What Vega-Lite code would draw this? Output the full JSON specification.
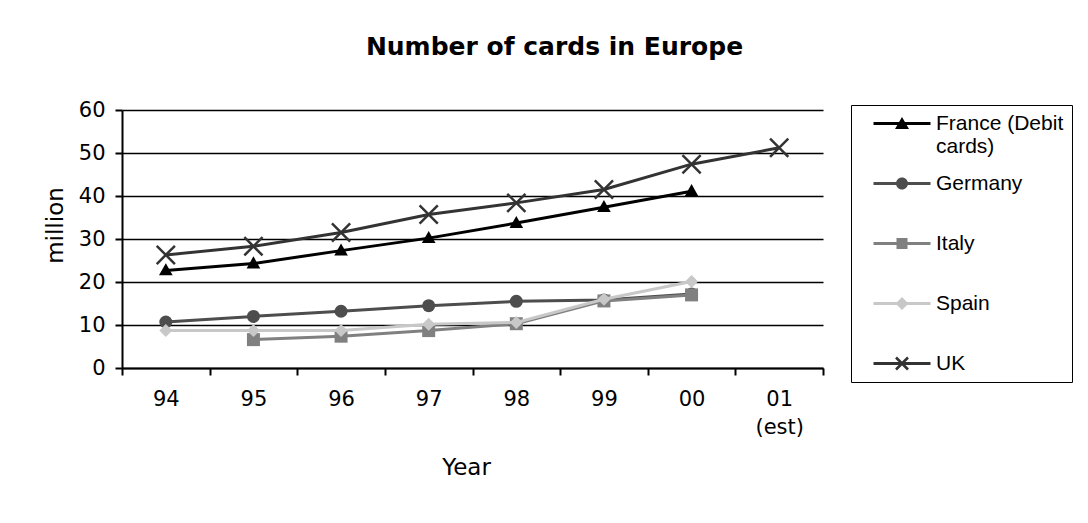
{
  "$schema": "https://vega.github.io/schema/vega-lite/v6.json",
  "width": 701,
  "height": 258,
  "autosize": {"type": "none"},
  "padding": {"left": 122, "top": 110, "right": 265, "bottom": 155},
  "background": "white",
  "title": {
    "text": "Number of cards in Europe",
    "font": "DejaVu Sans",
    "fontSize": 25,
    "fontWeight": "bold",
    "color": "black",
    "anchor": "middle",
    "baseline": "alphabetic",
    "offset": 19,
    "dx": 82
  },
  "data": {
    "values": [
      {"year": "94", "country": "France (Debit cards)", "value": 22.7},
      {"year": "95", "country": "France (Debit cards)", "value": 24.3},
      {"year": "96", "country": "France (Debit cards)", "value": 27.3},
      {"year": "97", "country": "France (Debit cards)", "value": 30.2},
      {"year": "98", "country": "France (Debit cards)", "value": 33.7},
      {"year": "99", "country": "France (Debit cards)", "value": 37.4},
      {"year": "00", "country": "France (Debit cards)", "value": 41.1},
      {"year": "94", "country": "Germany", "value": 10.7},
      {"year": "95", "country": "Germany", "value": 12.0},
      {"year": "96", "country": "Germany", "value": 13.2},
      {"year": "97", "country": "Germany", "value": 14.5},
      {"year": "98", "country": "Germany", "value": 15.5},
      {"year": "99", "country": "Germany", "value": 15.8},
      {"year": "00", "country": "Germany", "value": 17.2},
      {"year": "95", "country": "Italy", "value": 6.6},
      {"year": "96", "country": "Italy", "value": 7.4},
      {"year": "97", "country": "Italy", "value": 8.7},
      {"year": "98", "country": "Italy", "value": 10.3},
      {"year": "99", "country": "Italy", "value": 15.6},
      {"year": "00", "country": "Italy", "value": 17.0},
      {"year": "94", "country": "Spain", "value": 8.7},
      {"year": "95", "country": "Spain", "value": 8.7},
      {"year": "96", "country": "Spain", "value": 8.7},
      {"year": "97", "country": "Spain", "value": 10.2},
      {"year": "98", "country": "Spain", "value": 10.6},
      {"year": "99", "country": "Spain", "value": 16.0},
      {"year": "00", "country": "Spain", "value": 20.1},
      {"year": "94", "country": "UK", "value": 26.3},
      {"year": "95", "country": "UK", "value": 28.3},
      {"year": "96", "country": "UK", "value": 31.5},
      {"year": "97", "country": "UK", "value": 35.7},
      {"year": "98", "country": "UK", "value": 38.4},
      {"year": "99", "country": "UK", "value": 41.5},
      {"year": "00", "country": "UK", "value": 47.4},
      {"year": "01 (est)", "country": "UK", "value": 51.2}
    ]
  },
  "encoding": {
    "x": {
      "field": "year",
      "type": "ordinal",
      "scale": {
        "type": "band",
        "domain": ["94", "95", "96", "97", "98", "99", "00", "01 (est)"],
        "paddingInner": 0,
        "paddingOuter": 0
      },
      "axis": {
        "title": "Year",
        "titleFont": "DejaVu Sans",
        "titleFontSize": 23,
        "titleFontWeight": "normal",
        "titleColor": "black",
        "titleX": 344,
        "titleY": 99,
        "titleBaseline": "middle",
        "labelAngle": 0,
        "labelFont": "DejaVu Sans",
        "labelFontSize": 21,
        "labelColor": "black",
        "labelPadding": 13,
        "labelBaseline": "top",
        "labelLineHeight": 28,
        "labelExpr": "datum.label == '01 (est)' ? ['01', '(est)'] : datum.label",
        "tickBand": "extent",
        "tickSize": 7,
        "tickColor": "black",
        "tickWidth": 2,
        "domainColor": "black",
        "domainWidth": 2,
        "grid": false
      }
    },
    "y": {
      "field": "value",
      "type": "quantitative",
      "scale": {"domain": [0, 60], "nice": false},
      "axis": {
        "values": [0, 10, 20, 30, 40, 50, 60],
        "title": "million",
        "titleFont": "DejaVu Sans",
        "titleFontSize": 23,
        "titleFontWeight": "normal",
        "titleColor": "black",
        "titleAngle": -90,
        "titleX": -67,
        "titleY": 115,
        "titleAlign": "center",
        "titleBaseline": "middle",
        "labelFont": "DejaVu Sans",
        "labelFontSize": 21,
        "labelColor": "black",
        "labelPadding": 10,
        "tickSize": 7,
        "tickColor": "black",
        "tickWidth": 2,
        "domainColor": "black",
        "domainWidth": 2,
        "grid": true,
        "gridColor": "black",
        "gridWidth": 1.5,
        "gridOpacity": 1
      }
    }
  },
  "layer": [
    {
      "transform": [{"filter": "datum.country == 'France (Debit cards)'"}],
      "mark": {
        "type": "line",
        "color": "#000000",
        "strokeWidth": 3,
        "point": {"filled": true, "opacity": 1, "size": 169, "color": "#000000", "shape": "M0,-1.1L1.05,0.75L-1.05,0.75Z"}
      }
    },
    {
      "transform": [{"filter": "datum.country == 'Germany'"}],
      "mark": {
        "type": "line",
        "color": "#4d4d4d",
        "strokeWidth": 3,
        "point": {"filled": true, "opacity": 1, "size": 169, "color": "#4d4d4d", "shape": "circle"}
      }
    },
    {
      "transform": [{"filter": "datum.country == 'Italy'"}],
      "mark": {
        "type": "line",
        "color": "#808080",
        "strokeWidth": 3,
        "point": {"filled": true, "opacity": 1, "size": 169, "color": "#808080", "shape": "square"}
      }
    },
    {
      "transform": [{"filter": "datum.country == 'Spain'"}],
      "mark": {
        "type": "line",
        "color": "#c8c8c8",
        "strokeWidth": 3,
        "point": {"filled": true, "opacity": 1, "size": 169, "color": "#c8c8c8", "shape": "diamond"}
      }
    },
    {
      "transform": [{"filter": "datum.country == 'UK'"}],
      "mark": {
        "type": "line",
        "color": "#333333",
        "strokeWidth": 3,
        "point": {"filled": false, "opacity": 1, "size": 169, "strokeWidth": 2.5, "color": "#333333", "shape": "M-1.4,-1.4L1.4,1.4M-1.4,1.4L1.4,-1.4"}
      }
    },
    {
      "mark": {"type": "point", "filled": true, "opacity": 0},
      "encoding": {
        "color": {
          "field": "country",
          "type": "nominal",
          "scale": {
            "domain": ["France (Debit cards)", "Germany", "Italy", "Spain", "UK"],
            "range": ["#000000", "#4d4d4d", "#808080", "#c8c8c8", "#333333"]
          },
          "legend": {
            "title": null,
            "orient": "none",
            "legendX": 729,
            "legendY": -5,
            "gridAlign": "all",
            "symbolSize": 400,
            "symbolStrokeWidth": 1,
            "symbolOpacity": 1,
            "labelFont": "Liberation Sans",
            "labelFontSize": 21,
            "labelColor": "black",
            "labelOffset": 56,
            "labelExpr": "datum.label == 'France (Debit cards)' ? ['France (Debit   ', 'cards)'] : datum.label",
            "labelLineHeight": 28,
            "rowPadding": 15,
            "padding": 8,
            "strokeColor": "black"
          }
        },
        "shape": {
          "field": "country",
          "type": "nominal",
          "scale": {
            "domain": ["France (Debit cards)", "Germany", "Italy", "Spain", "UK"],
            "range": [
              "M0.4,-0.15H6.1V0.15H0.4ZM3.25,-0.65L3.95,0.55L2.55,0.55Z",
              "M0.4,-0.15H6.1V0.15H0.4ZM3.25,-0.6C3.581,-0.6,3.85,-0.331,3.85,0C3.85,0.331,3.581,0.6,3.25,0.6C2.919,0.6,2.65,0.331,2.65,0C2.65,-0.331,2.919,-0.6,3.25,-0.6Z",
              "M0.4,-0.15H6.1V0.15H0.4ZM2.7,-0.55H3.8V0.55H2.7Z",
              "M0.4,-0.15H6.1V0.15H0.4ZM3.25,-0.65L3.9,0L3.25,0.65L2.6,0Z",
              "M0.4,-0.15H6.1V0.15H0.4ZM2.742,-0.692L3.942,0.508L3.758,0.692L2.558,-0.508ZM2.742,0.692L2.558,0.508L3.758,-0.692L3.942,-0.508Z"
            ]
          },
          "legend": {
            "title": null,
            "orient": "none",
            "legendX": 729,
            "legendY": -5,
            "gridAlign": "all",
            "symbolSize": 400,
            "symbolStrokeWidth": 1,
            "symbolOpacity": 1,
            "labelFont": "Liberation Sans",
            "labelFontSize": 21,
            "labelColor": "black",
            "labelOffset": 56,
            "labelExpr": "datum.label == 'France (Debit cards)' ? ['France (Debit   ', 'cards)'] : datum.label",
            "labelLineHeight": 28,
            "rowPadding": 15,
            "padding": 8,
            "strokeColor": "black"
          }
        }
      }
    }
  ],
  "config": {
    "view": {"stroke": null},
    "font": "DejaVu Sans"
  }
}
